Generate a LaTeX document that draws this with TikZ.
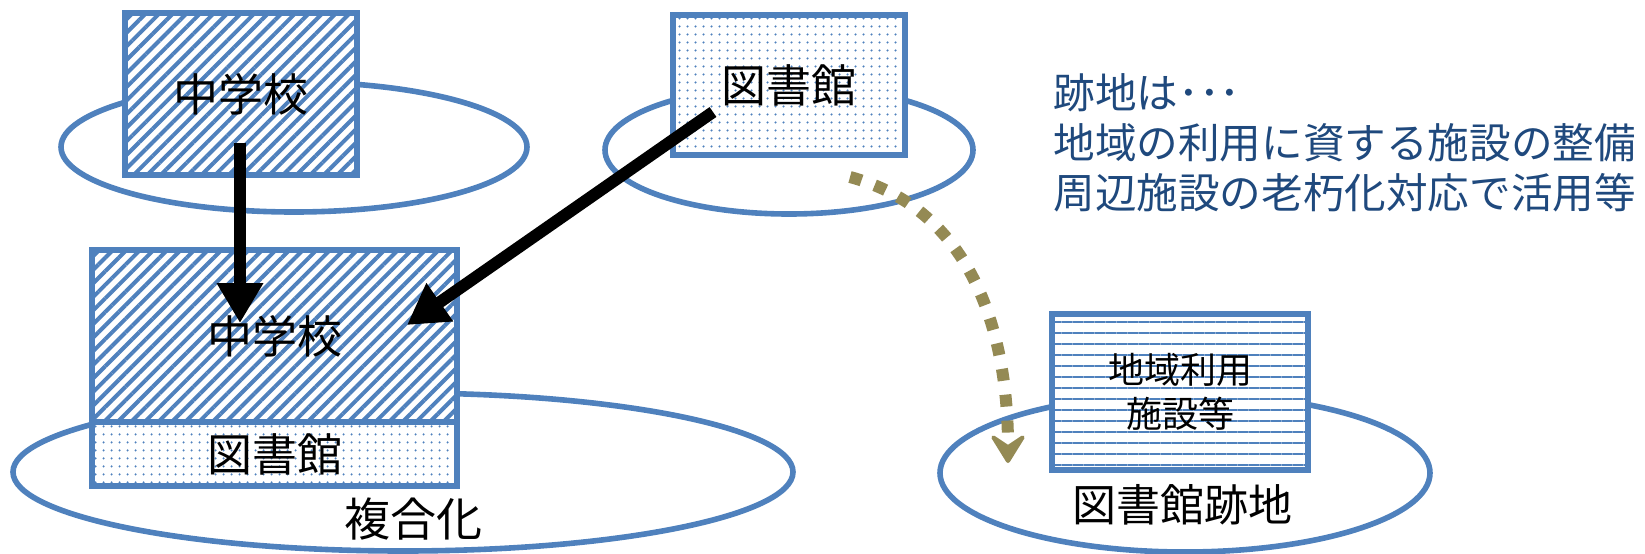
\documentclass[tikz,border=0pt]{standalone}
\usepackage{fontspec}
\setmainfont{Noto Sans CJK JP}
\usetikzlibrary{arrows.meta,patterns.meta}
\definecolor{siteblue}{RGB}{79,129,189}
\definecolor{reusegold}{RGB}{148,138,84}
\definecolor{noteblue}{RGB}{31,73,125}
\tikzset{
	site/.style={draw=siteblue,line width=2.8pt},
	facility/.style={draw=siteblue,line width=3pt,preaction={fill=white},inner sep=0pt,
		font=\fontsize{22.5pt}{27pt}\selectfont},
	hatched/.style={facility,pattern={Lines[angle=45,distance=4.8pt,line width=2pt]},pattern color=siteblue},
	speckled/.style={facility,pattern={Dots[distance=4pt,radius=0.65pt]},pattern color=siteblue},
	striped/.style={facility,pattern={Lines[angle=0,distance=5.5pt,line width=0.9pt]},pattern color=siteblue},
	move/.style={line width=6pt,-{Triangle[length=20pt,width=22pt]}},
	reuse/.style={reusegold,line width=6pt,dash pattern=on 6pt off 7pt,
		-{Stealth[length=17pt,width=21pt,inset=7pt,round,line width=2pt]}},
}

\begin{document}
\begin{tikzpicture}[x=0.5pt,y=-0.5pt]
		\useasboundingbox (0,0) rectangle (1645,553);
		% sites
		\draw[site] (294,147) ellipse [x radius=233, y radius=65];
		\draw[site] (789,150) ellipse [x radius=184, y radius=64];
		\draw[site] (403,472) ellipse [x radius=390, y radius=79];
		\draw[site] (1185,473) ellipse [x radius=245, y radius=79];
		% facilities
		\node[hatched,minimum width=116pt,minimum height=81pt] (jhs) at (241,94) {中学校};
		\node[speckled,minimum width=116pt,minimum height=70pt] (lib) at (789,85) {図書館};
		\node[hatched,minimum width=182.5pt,minimum height=86pt] (newjhs) at (274.5,336) {中学校};
		\node[speckled,minimum width=182.5pt,minimum height=32pt] (newlib) at (274.5,454) {図書館};
		\node[striped,minimum width=128pt,minimum height=78pt,align=center,
			font=\fontsize{18pt}{22pt}\selectfont] (local) at (1180,392) {地域利用\\施設等};
		\node[font=\fontsize{23pt}{27pt}\selectfont] (merged) at (413,519) {複合化};
		\node[font=\fontsize{22pt}{27pt}\selectfont] (lot) at (1182,505) {図書館跡地};
		\node[noteblue,font=\fontsize{20.8pt}{25pt}\selectfont,align=left,anchor=west,inner sep=0pt]
			(note) at (1053,143) {跡地は･･･\\地域の利用に資する施設の整備\\周辺施設の老朽化対応で活用等};
		% moves
		\coordinate (jhsfoot) at (240,143);
		\coordinate (jhsin) at (240,323);
		\coordinate (libfoot) at (713,112);
		\coordinate (libin) at (407,325);
		\coordinate (libleave) at (850,177);
		\coordinate (lotin) at (1008,463);
		\draw[move] (jhsfoot) -- (jhsin);
		\draw[move] (libfoot) -- (libin);
		\draw[reuse] (libleave) to[out=-15,in=90] (lotin);
\end{tikzpicture}
\end{document}
